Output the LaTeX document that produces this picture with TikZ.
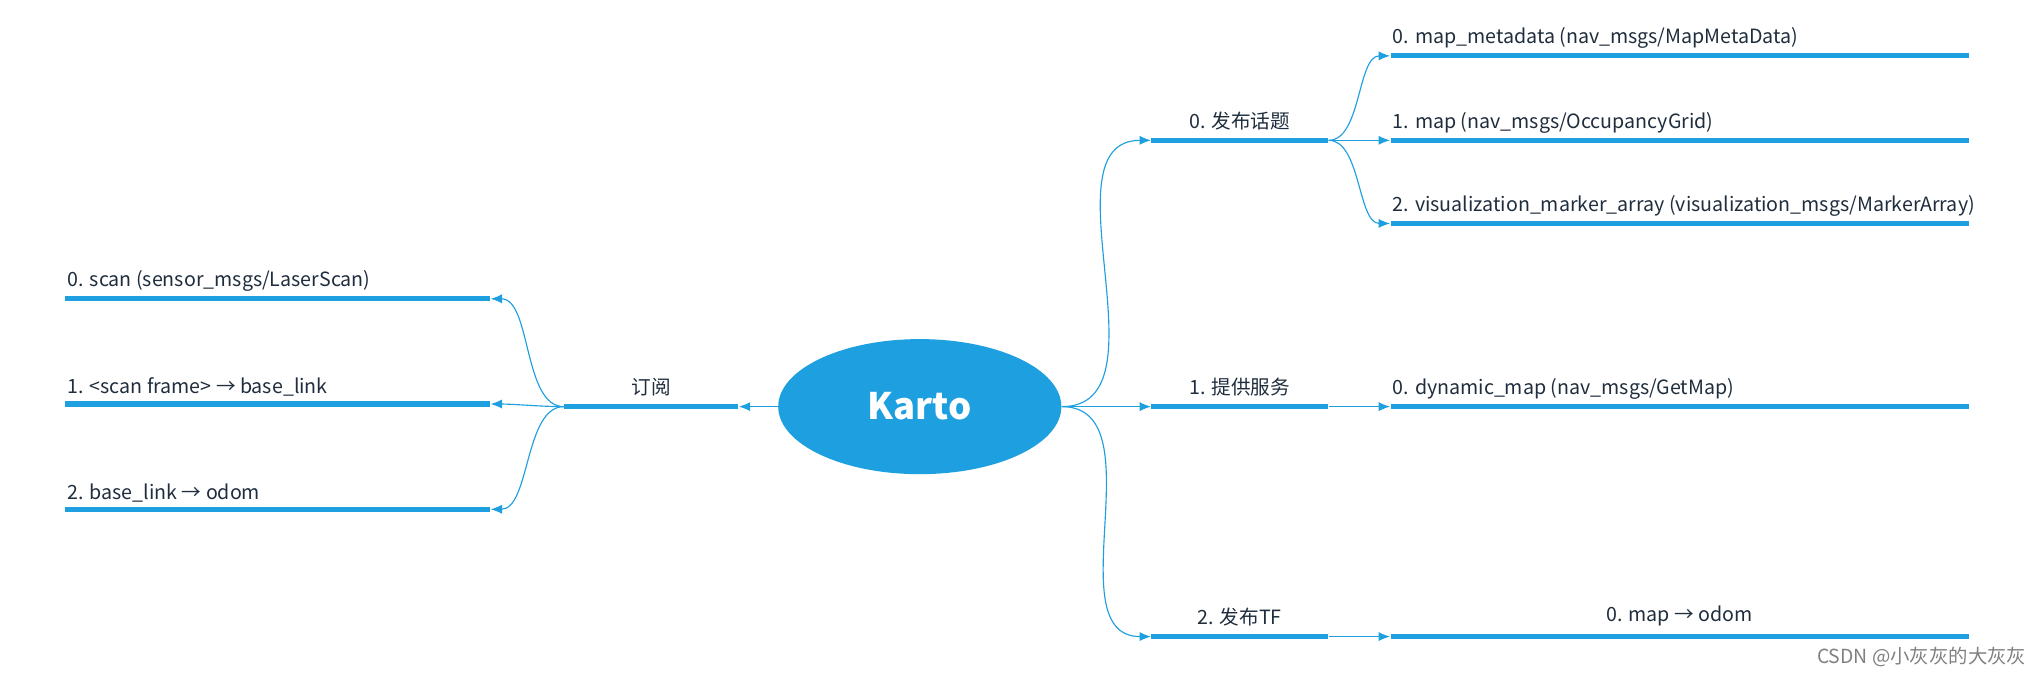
\documentclass[tikz,border=0pt]{standalone}
\usepackage{fontspec}
\setmainfont{Noto Sans CJK SC}
\usetikzlibrary{arrows.meta,positioning,shapes.geometric}
\definecolor{xblue}{HTML}{1E9FDF}
\definecolor{xtext}{HTML}{1F2D3D}
\tikzset{bar/.style={rectangle, fill=xblue, inner sep=0pt, minimum height=0.08cm},
  lbl/.style={font=\fontsize{8.6}{10}\selectfont, text=xtext, inner sep=1pt},
  link/.style={draw=xblue, line width=0.5pt, -{Latex[length=5pt,width=4pt]}}}
\begin{document}
\begin{tikzpicture}[x=0.02cm, y=-0.02cm]
\useasboundingbox (0,0) rectangle (1568,522);
\node (karto) [ellipse, fill=xblue, minimum width=4.36cm, minimum height=2.08cm, text=white,
  font=\fontsize{16}{18}\selectfont\bfseries] at (708,313) {Karto};
% subscribe
\node (sub) [bar, minimum width=2.68cm, anchor=west] at (434,313) {};
\node (subl) [lbl, above=2pt of sub] {订阅};
\node (s0) [bar, minimum width=6.54cm, anchor=west] at (50,230) {};
\node (s1) [bar, minimum width=6.54cm, anchor=west] at (50,311) {};
\node (s2) [bar, minimum width=6.54cm, anchor=west] at (50,392) {};
\node [lbl, above=2pt of s0.west, anchor=south west] {0. scan (sensor\_msgs/LaserScan)};
\node [lbl, above=2pt of s1.west, anchor=south west] {1. <scan frame> → base\_link};
\node [lbl, above=2pt of s2.west, anchor=south west] {2. base\_link → odom};
\draw [link] (karto.west) -- (sub.east);
\foreach \n in {s0,s1,s2}
  \draw [link] (sub.west) to[out=180, in=0, looseness=0.8] (\n.east);
% right side
\node (pub) [bar, minimum width=2.72cm, anchor=west] at (886,108) {};
\node (srv) [bar, minimum width=2.72cm, anchor=west] at (886,313) {};
\node (tf) [bar, minimum width=2.72cm, anchor=west] at (886,490) {};
\node [lbl, above=2pt of pub] {0. 发布话题};
\node [lbl, above=2pt of srv] {1. 提供服务};
\node [lbl, above=2pt of tf] {2. 发布TF};
\foreach \n in {pub,srv,tf}
  \draw [link] (karto.east) to[out=0, in=180] (\n.west);
\node (p0) [bar, minimum width=8.9cm, anchor=west] at (1070,43) {};
\node (p1) [bar, minimum width=8.9cm, anchor=west] at (1070,108) {};
\node (p2) [bar, minimum width=8.9cm, anchor=west] at (1070,172) {};
\node (v0) [bar, minimum width=8.9cm, anchor=west] at (1070,313) {};
\node (t0) [bar, minimum width=8.9cm, anchor=west] at (1070,490) {};
\node [lbl, above=2pt of p0.west, anchor=south west] {0. map\_metadata (nav\_msgs/MapMetaData)};
\node [lbl, above=2pt of p1.west, anchor=south west] {1. map (nav\_msgs/OccupancyGrid)};
\node [lbl, above=2pt of p2.west, anchor=south west] {2. visualization\_marker\_array (visualization\_msgs/MarkerArray)};
\node [lbl, above=2pt of v0.west, anchor=south west] {0. dynamic\_map (nav\_msgs/GetMap)};
\node [lbl, above=2pt of t0] {0. map → odom};
\foreach \n in {p0,p1,p2}
  \draw [link] (pub.east) to[out=0, in=180, looseness=0.8] (\n.west);
\draw [link] (srv.east) -- (v0.west);
\draw [link] (tf.east) -- (t0.west);
\node (mark) [font=\fontsize{8.5}{10}\selectfont, text=gray, anchor=east] at (1566,506) {CSDN @小灰灰的大灰灰};
\end{tikzpicture}
\end{document}
